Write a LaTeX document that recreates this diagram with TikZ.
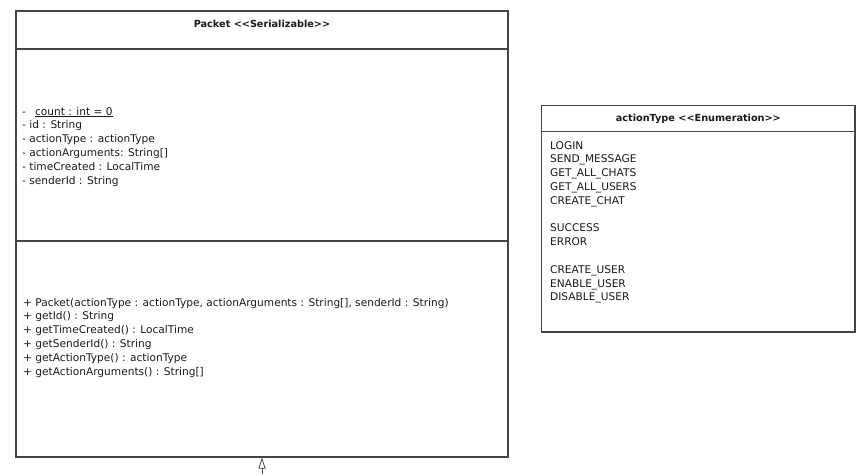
\documentclass[tikz,border=0pt]{standalone}
\usepackage{fontspec}
\setmainfont{DejaVu Sans}
\usetikzlibrary{arrows.meta}
\definecolor{linec}{HTML}{444444}
\definecolor{textc}{HTML}{1A1A1A}
\newcommand{\lguil}{\textless\kern0pt\textless\kern0pt}
\newcommand{\rguil}{\kern0pt\textgreater\kern0pt\textgreater}
\begin{document}
\begin{tikzpicture}[x=1pt,y=-1pt,
  box/.style={draw=linec, line width=1.1pt, rectangle, inner sep=0pt},
  sepline/.style={draw=linec, line width=1.1pt},
  row/.style={anchor=base west, inner sep=0pt, text=textc, font=\fontsize{10.6}{13}\selectfont},
  ttl/.style={anchor=base, inner sep=0pt, text=textc, font=\fontsize{9.7}{12}\selectfont\bfseries},
  realize/.style={draw=linec, line width=0.8pt, -{Triangle[open, length=11pt, width=7pt]}}]
\fill[white] (0,0) rectangle (864,474);
\useasboundingbox (0,0) rectangle (864,474);

% Packet class
\node[box, minimum width=492pt, minimum height=446pt] (packet) at (262,234) {};
\draw[sepline] (16,49) -- (508,49);
\draw[sepline] (16,241) -- (508,241);
\node[ttl] (ptitle) at (262,27.5) {Packet \lguil Serializable\rguil};
\node[row] (a0) at (22,115) {-\hspace{9pt}\underline{count : int = 0}};
\foreach \t [count=\i from 1] in {{- id : String},{- actionType : actionType},{- actionArguments: String[]},{- timeCreated : LocalTime},{- senderId : String}}
  \node[row] (a\i) at (22,115+13.8*\i) {\t};
\foreach \t [count=\i from 0] in {{+ Packet(actionType : actionType, actionArguments : String[], senderId : String)},{+ getId() : String},{+ getTimeCreated() : LocalTime},{+ getSenderId() : String},{+ getActionType() : actionType},{+ getActionArguments() : String[]}}
  \node[row] (m\i) at (23,306+13.8*\i) {\t};

% realization arrow
\coordinate (arrowend) at (262,474);
\draw[realize] (arrowend) -- (packet.south);

% actionType enumeration
\node[box, minimum width=313.3pt, minimum height=226.3pt] (enum) at (698.35,218.85) {};
\draw[sepline] (541.7,131.7) -- (855,131.7);
\node[ttl] (etitle) at (698.35,121.5) {actionType \lguil Enumeration\rguil};
\foreach \t/\k in {LOGIN/0,SEND\_MESSAGE/1,GET\_ALL\_CHATS/2,GET\_ALL\_USERS/3,CREATE\_CHAT/4,SUCCESS/6,ERROR/7,CREATE\_USER/9,ENABLE\_USER/10,DISABLE\_USER/11}
  \node[row] (e\k) at (550,149+13.8*\k) {\t};
\end{tikzpicture}
\end{document}
